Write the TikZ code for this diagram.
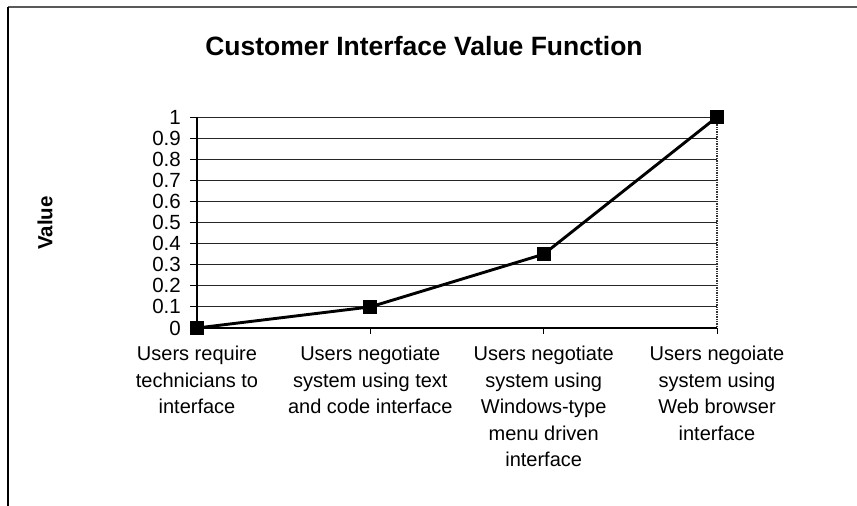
\documentclass[tikz,border=0pt]{standalone}
\usepackage{fontspec}
\setmainfont{Liberation Sans}
\begin{document}
\begin{tikzpicture}[x=1pt,y=-1pt,
  grid/.style={draw=black!85,line width=1pt},
  axisline/.style={draw=black,line width=1.4pt},
  ticklab/.style={anchor=east,font=\fontsize{20.5}{20.5}\selectfont,inner sep=0pt},
  catlab/.style={anchor=north,align=center,font=\fontsize{20}{26.5}\selectfont,inner sep=0pt},
  marker/.style={fill=black,minimum size=14pt,inner sep=0pt,draw=none,rectangle},
  series/.style={line width=2.9pt,black}]
\useasboundingbox (0,0) rectangle (857,506);
\fill[white] (0,0) rectangle (857,506);
% outer frame (left and top)
\draw[black!65,line width=1.5pt] (8,7) -- (857,7);
\draw[black,line width=1.3pt] (8,7) -- (8,506);
% title
\node[font=\bfseries\fontsize{26.5}{26.5}\selectfont] (title) at (424,46) {Customer Interface Value Function};
% y axis title
\node[font=\bfseries\fontsize{20.5}{20.5}\selectfont,rotate=90] (ytitle) at (45,223) {Value};
% gridlines
\foreach \v in {1,...,10}{
  \draw[grid] (197,328-21.1*\v) -- (717,328-21.1*\v);
}
% y ticks and labels
\foreach \v/\lab in {0/0,1/0.1,2/0.2,3/0.3,4/0.4,5/0.5,6/0.6,7/0.7,8/0.8,9/0.9,10/1}{
  \draw[black,line width=1pt] (190,328-21.1*\v) -- (197,328-21.1*\v);
  \node[ticklab] (yl\v) at (181,328-21.1*\v) {\lab};
}
% plot frame
\draw[black!80,line width=1.4pt,densely dotted] (717,117) -- (717,328);
\draw[axisline] (197,117) -- (197,328);
\draw[axisline] (197,328) -- (717,328);
\foreach \x in {370.3,543.7,717}{
  \draw[black,line width=1pt] (\x,328) -- (\x,334);
}
% category labels
\node[catlab] (c1) at (197,346) {Users require\\technicians to\\interface};
\node[catlab] (c2) at (370.3,346) {Users negotiate\\system using text\\and code interface};
\node[catlab] (c3) at (543.7,346) {Users negotiate\\system using\\Windows-type\\menu driven\\interface};
\node[catlab] (c4) at (717,346) {Users negoiate\\system using\\Web browser\\interface};
% data
\coordinate (p1) at (197,328);
\coordinate (p2) at (370.3,306.9);
\coordinate (p3) at (543.7,254.2);
\coordinate (p4) at (717,117);
\draw[series] (p1) -- (p2) -- (p3) -- (p4);
\foreach \p in {p1,p2,p3,p4}{
  \node[marker] (m\p) at (\p) {};
}
\end{tikzpicture}
\end{document}
